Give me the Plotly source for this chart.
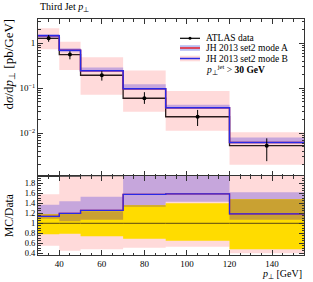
import plotly.graph_objects as go
from plotly.subplots import make_subplots

# ---- data ----
edges = [30, 40, 50, 70, 90, 120, 155]
data = [1.29, 0.56, 0.195, 0.060, 0.0233, 0.0053]
data_lo = [1.08, 0.44, 0.148, 0.045, 0.0145, 0.0024]
data_hi = [1.53, 0.67, 0.24, 0.082, 0.033, 0.0077]

mode_a = [1.47, 0.70, 0.245, 0.097, 0.037, 0.0062]
mode_a_lo = [1.33, 0.63, 0.235, 0.092, 0.035, 0.0060]
mode_a_hi = [1.61, 0.78, 0.29, 0.123, 0.043, 0.0080]
mode_b = [1.47, 0.70, 0.245, 0.097, 0.037, 0.0062]
mode_b_lo = [0.74, 0.255, 0.072, 0.030, 0.0114, 0.0020]
mode_b_hi = [2.15, 1.08, 0.49, 0.25, 0.087, 0.0106]

ratio_a = [1.14, 1.20, 1.26, 1.58, 1.59, 1.19]
ratio_b = [1.14, 1.20, 1.26, 1.58, 1.59, 1.19]
ratio_a_lo = [1.09, 1.04, 1.07, 1.33, 1.43, 1.07]
ratio_a_hi = [1.37, 1.44, 1.53, 2.5, 2.5, 1.62]
ratio_b_lo = [0.55, 0.45, 0.48, 0.51, 0.53, 0.40]
ratio_b_hi = [1.58, 1.93, 1.94, 2.5, 2.5, 2.2]
ratio_data_lo = [0.78, 0.79, 0.74, 0.69, 0.65, 0.48]
ratio_data_hi = [1.18, 1.19, 1.24, 1.36, 1.40, 1.48]

ratio_ticks = [0.4, 0.6, 0.8, 1.0, 1.2, 1.4, 1.6, 1.8]
ratio_ticktext = ["0.4", "0.6", "0.8", "1", "1.2", "1.4", "1.6", "1.8"]
main_ticks = [0.01, 0.1, 1]
main_ticktext = ["10<sup>−2</sup>", "10<sup>−1</sup>", "1"]

# ---- styles ----
PINK = "#ffdada"
PURPLE = "#c6a6dc"
YELLOW = "#ffdc00"
GOLD = "#c9a132"
BLUE = "#2a2ae6"
RED = "#e8202a"
DARK = "#2a1c1c"
FONT = "Liberation Serif"

centers = [(edges[i] + edges[i + 1]) / 2 for i in range(len(data))]


def rects(lo, hi):
    xs, ys = [], []
    for i in range(len(lo)):
        if lo[i] >= hi[i]:
            continue
        x0, x1 = edges[i], edges[i + 1]
        xs += [x0, x1, x1, x0, x0, None]
        ys += [lo[i], lo[i], hi[i], hi[i], lo[i], None]
    return xs, ys


def step(vals):
    return edges, list(vals) + [vals[-1]]


fig = make_subplots(rows=2, cols=1, shared_xaxes=True, vertical_spacing=0,
                    row_heights=[157 / 236, 79 / 236])


def band(lo, hi, color, row):
    xs, ys = rects(lo, hi)
    fig.add_trace(go.Scatter(x=xs, y=ys, fill="toself", fillcolor=color,
                             mode="lines", line=dict(width=0, color=color),
                             hoverinfo="skip", showlegend=False), row=row, col=1)


def line(vals, color, row, width=1.5):
    xs, ys = step(vals)
    fig.add_trace(go.Scatter(x=xs, y=ys, mode="lines", line_shape="hv",
                             line=dict(color=color, width=width),
                             hoverinfo="skip", showlegend=False), row=row, col=1)


# main panel
band(mode_b_lo, mode_b_hi, PINK, 1)
band(mode_a_lo, mode_a_hi, PURPLE, 1)
line(data, DARK, 1, 1.3)
line(mode_a, RED, 1, 1.5)
line(mode_b, BLUE, 1, 1.5)
fig.add_trace(go.Scatter(
    x=centers, y=data, mode="markers",
    marker=dict(color="black", size=4),
    error_y=dict(type="data", symmetric=False,
                 array=[h - v for h, v in zip(data_hi, data)],
                 arrayminus=[v - l for v, l in zip(data, data_lo)],
                 width=0, thickness=1, color="black"),
    showlegend=False, hoverinfo="skip"), row=1, col=1)

# ratio panel
band(ratio_b_lo, ratio_b_hi, PINK, 2)
band(ratio_a_lo, ratio_a_hi, PURPLE, 2)
band(ratio_data_lo, ratio_data_hi, YELLOW, 2)
gold_lo = [max(a, b) for a, b in zip(ratio_data_lo, ratio_a_lo)]
gold_hi = [min(a, b) for a, b in zip(ratio_data_hi, ratio_a_hi)]
band(gold_lo, gold_hi, GOLD, 2)
line([v / v for v in data], "#5a4812", 2, 1)
line(ratio_a, RED, 2, 1.3)
line(ratio_b, BLUE, 2, 1.3)

axis_common = dict(showline=True, linecolor="#333", linewidth=1, mirror="ticks",
                   ticks="inside", tickcolor="#333", showgrid=False, zeroline=False)

fig.update_xaxes(range=[30, 155], tick0=0, dtick=20, ticklen=5,
                 minor=dict(ticks="inside", ticklen=2.5, dtick=5, tick0=0, tickcolor="#333"),
                 tickfont=dict(size=9, family=FONT, color="black"), **axis_common)
fig.update_xaxes(showticklabels=False, row=1, col=1)
fig.update_xaxes(showticklabels=True, row=2, col=1)

minor_log = [k * 10 ** d for d in [-3, -2, -1, 0] for k in range(2, 10)]
fig.update_yaxes(type="log", range=[-2.95, 0.54], tickmode="array",
                 tickvals=main_ticks, ticktext=main_ticktext, ticklen=5,
                 minor=dict(ticks="inside", ticklen=2.5, tickmode="array",
                            tickvals=minor_log, tickcolor="#333"),
                 tickfont=dict(size=9, family=FONT, color="black"),
                 row=1, col=1, **axis_common)
fig.update_yaxes(range=[0.366, 1.946], tickmode="array", tickvals=ratio_ticks,
                 ticktext=ratio_ticktext, ticklen=5,
                 minor=dict(ticks="inside", ticklen=2.5, dtick=0.05, tick0=0, tickcolor="#333"),
                 tickfont=dict(size=8.5, family=FONT, color="black"),
                 row=2, col=1, **axis_common)

H = 236.0
W = 266.0


def px(xp):
    return (xp - 38) / W


def py(yp):
    return 1 - (yp - 19) / H


ann = []
ann.append(dict(text="Third Jet <i>p</i><sub>⊥</sub>", x=0, y=py(8), xref="paper", yref="paper",
                xanchor="left", yanchor="middle", showarrow=False, font=dict(size=10)))
ann.append(dict(text="d<i>σ</i>/d<i>p</i><sub>⊥</sub> [pb/GeV]", textangle=-90,
                x=px(9), y=py(17), xref="paper", yref="paper", xanchor="center", yanchor="top",
                showarrow=False, font=dict(size=13)))
ann.append(dict(text="MC/Data", textangle=-90, x=px(9), y=py(216), xref="paper", yref="paper",
                xanchor="center", yanchor="middle", showarrow=False, font=dict(size=11.5)))
ann.append(dict(text="<i>p</i><sub>⊥</sub> [GeV]", x=1.0, y=py(274), xref="paper", yref="paper",
                xanchor="right", yanchor="middle", showarrow=False, font=dict(size=10)))

leg_y = [38.3, 48.0, 58.5, 69.5]
leg_txt = ["ATLAS data", "JH 2013 set2 mode A", "JH 2013 set2 mode B",
           "<i>p</i><sub>⊥</sub><sup>jet</sup> > <b>30 GeV</b>"]
for t, yy in zip(leg_txt, leg_y):
    ann.append(dict(text=t, x=px(204), y=py(yy), xref="paper", yref="paper",
                    xanchor="left", yanchor="middle", showarrow=False, font=dict(size=9.5)))

shapes = []
x0, x1 = px(180), px(200)
# ATLAS data symbol
shapes.append(dict(type="line", xref="paper", yref="paper", x0=x0, x1=x1,
                   y0=py(leg_y[0]), y1=py(leg_y[0]), line=dict(color="black", width=1.2)))
shapes.append(dict(type="circle", xref="paper", yref="paper",
                   x0=px(188.5), x1=px(191.5), y0=py(leg_y[0] + 1.5), y1=py(leg_y[0] - 1.5),
                   fillcolor="black", line=dict(width=0)))
# mode A symbol
shapes.append(dict(type="rect", xref="paper", yref="paper", x0=x0, x1=x1,
                   y0=py(leg_y[1] + 2.8), y1=py(leg_y[1] - 2.8), fillcolor="#b8bdf2", line=dict(width=0)))
shapes.append(dict(type="line", xref="paper", yref="paper", x0=x0, x1=x1,
                   y0=py(leg_y[1]), y1=py(leg_y[1]), line=dict(color=RED, width=1.5)))
# mode B symbol
shapes.append(dict(type="rect", xref="paper", yref="paper", x0=x0, x1=x1,
                   y0=py(leg_y[2] + 2.8), y1=py(leg_y[2] - 2.8), fillcolor=PINK, line=dict(width=0)))
shapes.append(dict(type="line", xref="paper", yref="paper", x0=x0, x1=x1,
                   y0=py(leg_y[2]), y1=py(leg_y[2]), line=dict(color=BLUE, width=1.5)))

fig.update_layout(width=313, height=282, margin=dict(l=38, r=9, t=19, b=27),
                  plot_bgcolor="white", paper_bgcolor="white",
                  font=dict(family=FONT, color="black", size=10),
                  showlegend=False, annotations=ann, shapes=shapes)

fig.write_html("out.html", config={"displayModeBar": False},
               post_script="document.body.style.margin='0';")
